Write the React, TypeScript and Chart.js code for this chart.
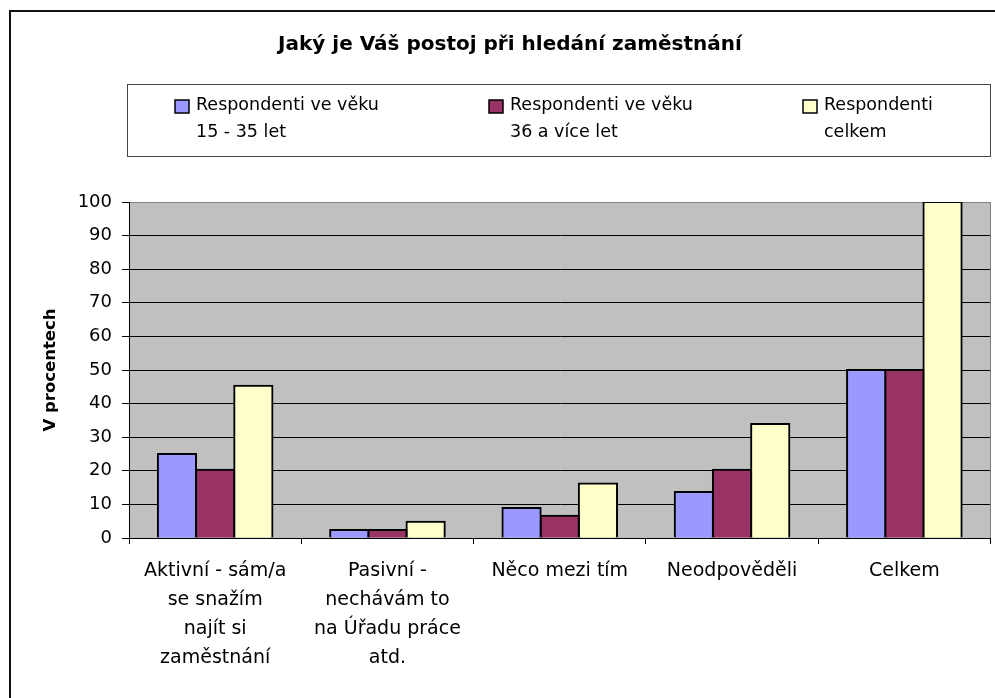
import React, { useEffect, useRef } from "react";
import { Chart, registerables } from "chart.js";

Chart.register(...registerables);

const chartTitle = "Jaký je Váš postoj při hledání zaměstnání";
const axisTitle = "V procentech";

const categories: string[][] = [
  ["Aktivní - sám/a", "se snažím", "najít si", "zaměstnání"],
  ["Pasivní -", "nechávám to", "na Úřadu práce", "atd."],
  ["Něco mezi tím"],
  ["Neodpověděli"],
  ["Celkem"],
];

const seriesLabels: string[][] = [
  ["Respondenti ve věku", "15 - 35 let"],
  ["Respondenti ve věku", "36 a více let"],
  ["Respondenti", "celkem"],
];

const youngValues = [25, 2.4, 8.9, 13.7, 50];
const olderValues = [20.3, 2.4, 6.6, 20.3, 50];
const totalValues = [45.3, 4.8, 16.2, 33.9, 100];

const yTickValues = [0, 10, 20, 30, 40, 50, 60, 70, 80, 90, 100];

const seriesColors = ["#9999FF", "#993366", "#FFFFCC"];

const FONT = "'DejaVu Sans', 'Liberation Sans', Arial, sans-serif";

const decorPlugin = {
  id: "decor",
  beforeDraw(chart: any) {
    const { ctx, chartArea, width, height } = chart;
    ctx.save();
    ctx.fillStyle = "#ffffff";
    ctx.fillRect(0, 0, width, height);
    ctx.fillStyle = "#C0C0C0";
    ctx.fillRect(chartArea.left, chartArea.top, chartArea.right - chartArea.left, chartArea.bottom - chartArea.top);

    // outer frame
    ctx.strokeStyle = "#111";
    ctx.lineWidth = 2;
    ctx.strokeRect(10, 11, width + 20, height + 20);

    // title
    ctx.fillStyle = "#000";
    ctx.font = `bold 20px ${FONT}`;
    ctx.textAlign = "center";
    ctx.textBaseline = "middle";
    ctx.fillText(chartTitle, 510, 45);

    // legend frame
    ctx.strokeStyle = "#444";
    ctx.lineWidth = 1;
    ctx.strokeRect(127.5, 84.5, 863, 72);

    const boxX = [175, 489, 803];
    ctx.font = `17.5px ${FONT}`;
    ctx.textAlign = "left";
    chart.data.datasets.forEach((ds: any, i: number) => {
      ctx.fillStyle = ds.backgroundColor;
      ctx.fillRect(boxX[i], 100, 14, 13);
      ctx.strokeStyle = "#000";
      ctx.lineWidth = 1.5;
      ctx.strokeRect(boxX[i], 100, 14, 13);
      ctx.fillStyle = "#000";
      const lines = seriesLabels[i];
      lines.forEach((ln, j) => {
        ctx.fillText(ln, boxX[i] + 21, 105 + j * 27);
      });
    });
    ctx.restore();
  },
  afterDatasetsDraw(chart: any) {
    const { ctx, chartArea } = chart;
    ctx.save();
    ctx.strokeStyle = "#808080";
    ctx.lineWidth = 1;
    ctx.beginPath();
    ctx.moveTo(Math.round(chartArea.right) - 0.5, chartArea.top);
    ctx.lineTo(Math.round(chartArea.right) - 0.5, chartArea.bottom);
    ctx.stroke();
    ctx.restore();
  },
};

export default function App() {
  const ref = useRef<HTMLCanvasElement | null>(null);

  useEffect(() => {
    if (!ref.current) return;
    const seriesValues = [youngValues, olderValues, totalValues];
    const chart = new Chart(ref.current, {
      type: "bar",
      data: {
        labels: categories,
        datasets: seriesValues.map((vals, i) => ({
          label: seriesLabels[i].join(" "),
          data: vals,
          backgroundColor: seriesColors[i],
          borderColor: "#000",
          borderWidth: 2,
          borderSkipped: "bottom",
          inflateAmount: 1,
          barPercentage: 1,
          categoryPercentage: 0.665,
        })),
      },
      options: {
        animation: false,
        responsive: false,
        maintainAspectRatio: false,
        layout: { padding: { top: 202, right: 4.5, bottom: 0, left: 0 } },
        plugins: {
          legend: { display: false },
          title: { display: false },
          tooltip: { enabled: false },
        },
        scales: {
          x: {
            offset: true,
            grid: {
              display: true,
              drawOnChartArea: false,
              drawTicks: true,
              tickLength: 6,
              color: "#000",
              offset: true,
            },
            border: { display: true, color: "#000", width: 1 },
            ticks: {
              color: "#000",
              font: { family: FONT, size: 19, lineHeight: 29 / 19 },
              padding: 13,
              maxRotation: 0,
              minRotation: 0,
              autoSkip: false,
            },
            afterFit: (s: any) => {
              s.height = 160;
            },
          },
          y: {
            min: 0,
            max: 100,
            afterBuildTicks: (s: any) => {
              s.ticks = yTickValues.map((v) => ({ value: v }));
            },
            ticks: {
              color: "#000",
              padding: 10,
              font: { family: FONT, size: 18 },
            },
            grid: {
              color: (c: any) => (c.tick && c.tick.value === 100 ? "#808080" : "#000"),
              tickColor: "#000",
              tickLength: 7,
              lineWidth: 1,
            },
            border: { display: true, color: "#000", width: 1 },
            title: {
              display: true,
              text: axisTitle,
              color: "#000",
              font: { family: FONT, size: 16.5, weight: "bold" },
              padding: { top: 41, bottom: 0 },
            },
            afterFit: (s: any) => {
              s.width = 129;
            },
          },
        },
      },
      plugins: [decorPlugin],
    } as any);
    return () => chart.destroy();
  }, []);

  return (
    <div style={{ position: "fixed", left: 0, top: 0, width: 995, height: 698, background: "#fff" }}>
      <canvas ref={ref} width={995} height={698} style={{ width: 995, height: 698, display: "block" }} />
    </div>
  );
}
